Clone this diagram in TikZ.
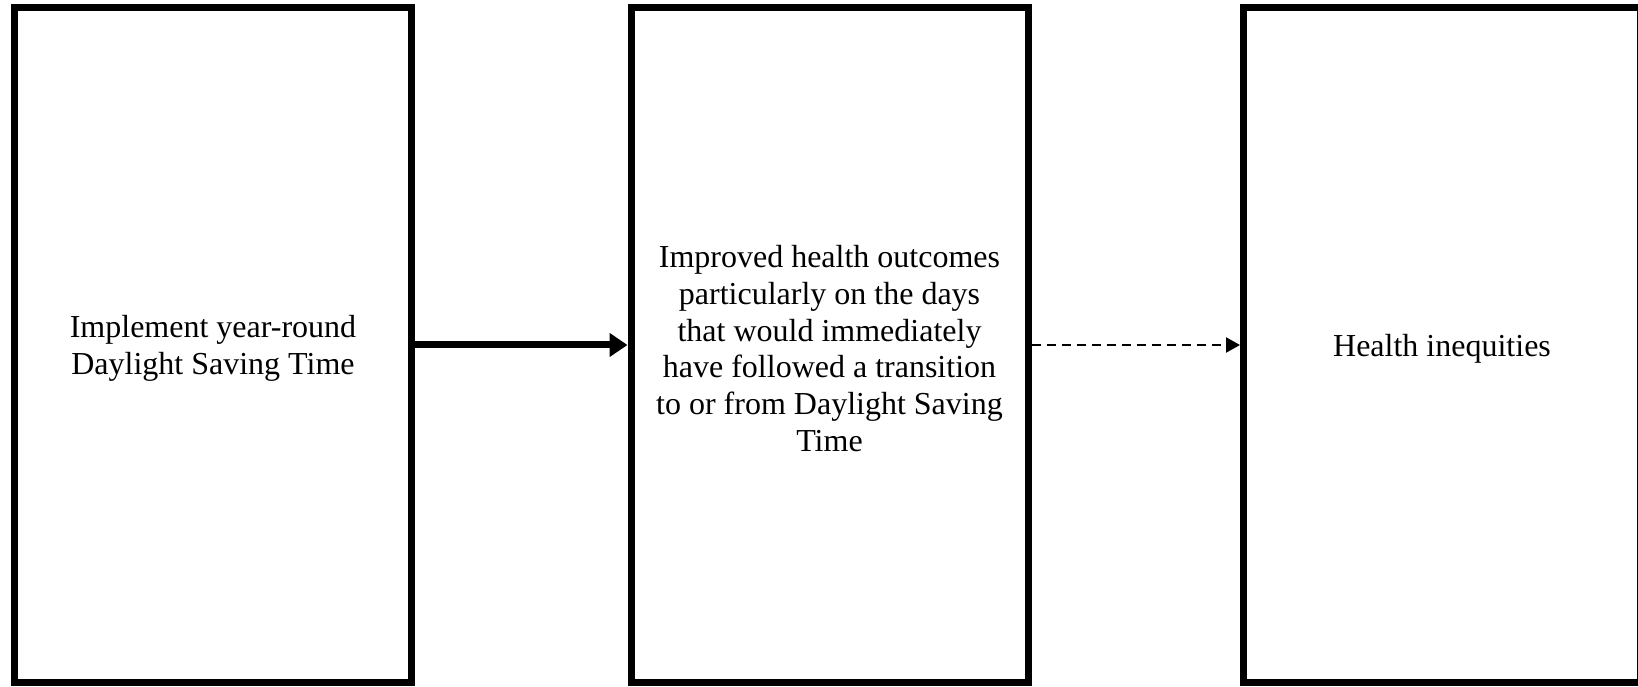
\documentclass[tikz,border=0pt]{standalone}
\usepackage{fontspec}
\setmainfont{Liberation Serif}
\usetikzlibrary{positioning, arrows.meta}

\newcommand{\topstrut}{\rule{0pt}{14.6pt}}

\tikzset{
  stage/.style={draw, line width=3.5pt, minimum width=198.5pt, minimum height=337pt,
    align=center, font=\fontsize{16pt}{18.4pt}\selectfont},
  strong link/.style={line width=3.5pt, -{Triangle[length=9pt,width=11.5pt]}},
  weak link/.style={line width=1.15pt, dash pattern=on 4.5pt off 3pt, -{Triangle[length=7pt,width=7.5pt]}}
}

\begin{document}
\begin{tikzpicture}[x=0.5pt,y=0.5pt,on grid]
  \useasboundingbox (0,0) rectangle (1638,686);
  \node[stage] (dst) at (213,341) {\topstrut Implement year-round\\Daylight Saving Time};
  \node[stage] (outcomes) [right=308.25pt of dst] {\topstrut Improved health outcomes\\particularly on the days\\that would immediately\\have followed a transition\\to or from Daylight Saving\\Time};
  \node[stage] (inequities) [right=306.25pt of outcomes] {\topstrut Health inequities};

  \path
    (dst) edge[strong link] (outcomes)
    (outcomes) edge[weak link] (inequities);
\end{tikzpicture}
\end{document}
